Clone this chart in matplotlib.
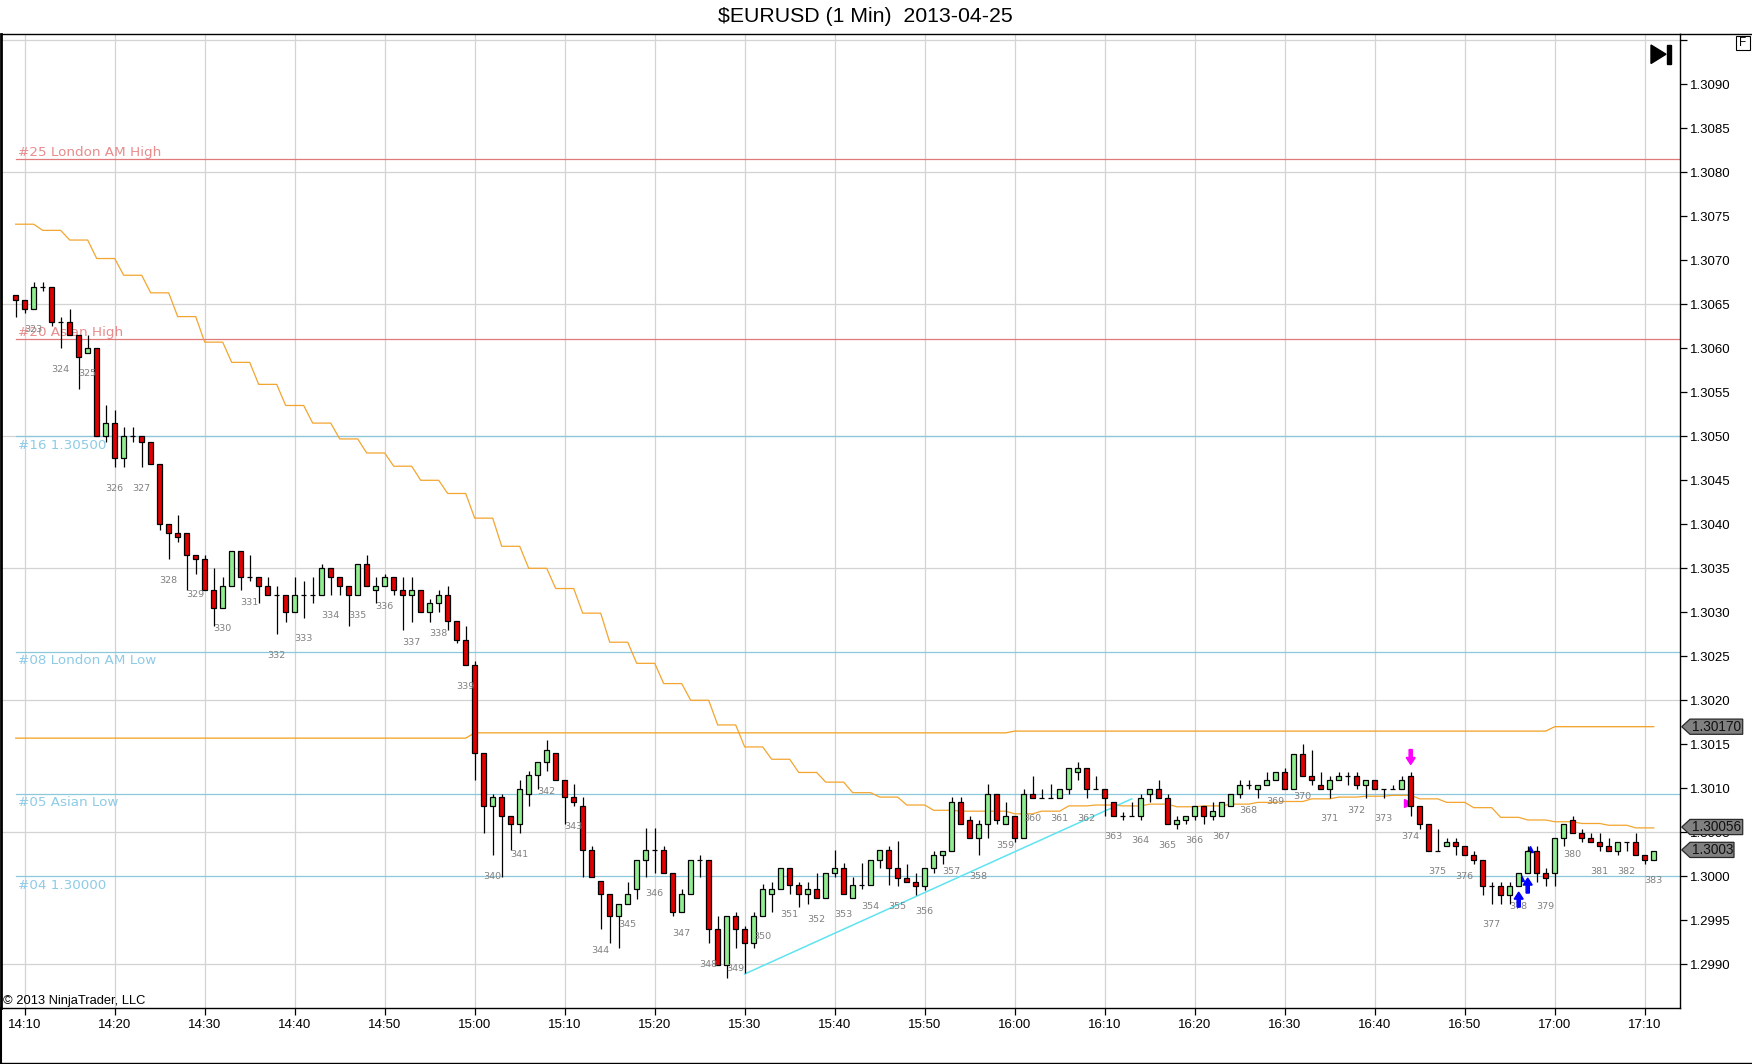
import matplotlib
matplotlib.use("Agg")
import matplotlib.pyplot as plt
import numpy as np
from matplotlib.patches import Polygon, Rectangle
from matplotlib.lines import Line2D

plt.rcParams['font.family'] = ['Liberation Sans', 'DejaVu Sans']

# 1 minute bars, first bar 14:09, last bar 17:11
first_bar = "14:09"
opens = [
    1.30660, 1.30655, 1.30645, 1.30670, 1.30670, 1.30630, 1.30630, 1.30615, 1.30595, 1.30600,
    1.30500, 1.30515, 1.30475, 1.30500, 1.30500, 1.30494, 1.30469, 1.30400, 1.30390, 1.30390,
    1.30365, 1.30360, 1.30325, 1.30305, 1.30330, 1.30370, 1.30340, 1.30340, 1.30330, 1.30320,
    1.30320, 1.30300, 1.30320, 1.30320, 1.30320, 1.30350, 1.30340, 1.30330, 1.30320, 1.30355,
    1.30325, 1.30330, 1.30340, 1.30325, 1.30320, 1.30325, 1.30300, 1.30310, 1.30320, 1.30290,
    1.30269, 1.30240, 1.30140, 1.30080, 1.30090, 1.30069, 1.30059, 1.30094, 1.30115, 1.30130,
    1.30140, 1.30109, 1.30090, 1.30080, 1.30030, 1.29995, 1.29980, 1.29955, 1.29969, 1.29985,
    1.30019, 1.30030, 1.30030, 1.30004, 1.29959, 1.29980, 1.30019, 1.30019, 1.29940, 1.29899,
    1.29955, 1.29940, 1.29924, 1.29955, 1.29980, 1.29985, 1.30009, 1.29990, 1.29980, 1.29985,
    1.29975, 1.30004, 1.30009, 1.29975, 1.29990, 1.29990, 1.30019, 1.30030, 1.30009, 1.29998,
    1.29994, 1.29989, 1.30009, 1.30024, 1.30029, 1.30084, 1.30064, 1.30044, 1.30059, 1.30094,
    1.30059, 1.30069, 1.30044, 1.30094, 1.30089, 1.30089, 1.30089, 1.30099, 1.30119, 1.30123,
    1.30099, 1.30099, 1.30084, 1.30069, 1.30069, 1.30069, 1.30094, 1.30099, 1.30089, 1.30059,
    1.30064, 1.30069, 1.30080, 1.30069, 1.30069, 1.30080, 1.30094, 1.30104, 1.30099, 1.30104,
    1.30109, 1.30119, 1.30099, 1.30139, 1.30114, 1.30104, 1.30099, 1.30109, 1.30114, 1.30114,
    1.30104, 1.30109, 1.30099, 1.30099, 1.30099, 1.30114, 1.30080, 1.30059, 1.30029, 1.30034,
    1.30039, 1.30034, 1.30024, 1.30019, 1.29989, 1.29989, 1.29979, 1.29989, 1.30004, 1.30029,
    1.30004, 1.30004, 1.30044, 1.30064, 1.30049, 1.30044, 1.30039, 1.30034, 1.30029, 1.30039,
    1.30039, 1.30024, 1.30019,
]
highs = [
    1.30660, 1.30655, 1.30675, 1.30675, 1.30670, 1.30635, 1.30645, 1.30615, 1.30615, 1.30600,
    1.30535, 1.30530, 1.30510, 1.30510, 1.30500, 1.30494, 1.30469, 1.30400, 1.30411, 1.30390,
    1.30365, 1.30365, 1.30350, 1.30340, 1.30370, 1.30370, 1.30365, 1.30340, 1.30340, 1.30330,
    1.30320, 1.30340, 1.30335, 1.30340, 1.30355, 1.30350, 1.30340, 1.30330, 1.30355, 1.30365,
    1.30340, 1.30344, 1.30340, 1.30340, 1.30340, 1.30325, 1.30315, 1.30325, 1.30330, 1.30290,
    1.30284, 1.30245, 1.30140, 1.30094, 1.30094, 1.30069, 1.30109, 1.30120, 1.30130, 1.30155,
    1.30140, 1.30109, 1.30105, 1.30090, 1.30034, 1.29995, 1.29980, 1.29969, 1.29994, 1.30019,
    1.30055, 1.30055, 1.30034, 1.30004, 1.29985, 1.30019, 1.30024, 1.30019, 1.29955, 1.29955,
    1.29959, 1.29944, 1.29959, 1.29991, 1.29994, 1.30009, 1.30009, 1.29994, 1.29994, 1.30004,
    1.30004, 1.30030, 1.30015, 1.29999, 1.30015, 1.30019, 1.30030, 1.30034, 1.30040, 1.30014,
    1.30004, 1.30009, 1.30029, 1.30029, 1.30090, 1.30090, 1.30069, 1.30064, 1.30105, 1.30094,
    1.30084, 1.30069, 1.30099, 1.30114, 1.30099, 1.30105, 1.30099, 1.30123, 1.30130, 1.30123,
    1.30114, 1.30099, 1.30084, 1.30073, 1.30084, 1.30094, 1.30099, 1.30109, 1.30094, 1.30069,
    1.30069, 1.30080, 1.30080, 1.30084, 1.30084, 1.30094, 1.30109, 1.30109, 1.30104, 1.30119,
    1.30119, 1.30123, 1.30139, 1.30150, 1.30144, 1.30119, 1.30114, 1.30119, 1.30119, 1.30119,
    1.30109, 1.30109, 1.30099, 1.30104, 1.30114, 1.30119, 1.30080, 1.30059, 1.30054, 1.30044,
    1.30044, 1.30034, 1.30029, 1.30019, 1.29994, 1.29994, 1.29994, 1.30004, 1.30034, 1.30034,
    1.30009, 1.30044, 1.30059, 1.30069, 1.30054, 1.30049, 1.30049, 1.30044, 1.30039, 1.30039,
    1.30049, 1.30024, 1.30029,
]
lows = [
    1.30635, 1.30640, 1.30645, 1.30665, 1.30625, 1.30600, 1.30615, 1.30554, 1.30595, 1.30500,
    1.30494, 1.30465, 1.30465, 1.30494, 1.30465, 1.30469, 1.30394, 1.30360, 1.30380, 1.30325,
    1.30344, 1.30325, 1.30284, 1.30305, 1.30330, 1.30325, 1.30335, 1.30310, 1.30320, 1.30275,
    1.30289, 1.30300, 1.30294, 1.30310, 1.30320, 1.30320, 1.30320, 1.30284, 1.30320, 1.30330,
    1.30310, 1.30330, 1.30320, 1.30280, 1.30289, 1.30300, 1.30289, 1.30300, 1.30280, 1.30265,
    1.30240, 1.30109, 1.30049, 1.30024, 1.29999, 1.30030, 1.30049, 1.30080, 1.30099, 1.30120,
    1.30109, 1.30059, 1.30080, 1.29999, 1.29999, 1.29940, 1.29924, 1.29919, 1.29969, 1.29974,
    1.29999, 1.30004, 1.30004, 1.29955, 1.29959, 1.29980, 1.29999, 1.29924, 1.29899, 1.29884,
    1.29919, 1.29890, 1.29919, 1.29955, 1.29959, 1.29985, 1.29980, 1.29965, 1.29969, 1.29975,
    1.29975, 1.29999, 1.29980, 1.29975, 1.29985, 1.29990, 1.30009, 1.29990, 1.29989, 1.29994,
    1.29979, 1.29984, 1.30004, 1.30014, 1.30029, 1.30059, 1.30044, 1.30024, 1.30044, 1.30059,
    1.30059, 1.30039, 1.30044, 1.30089, 1.30089, 1.30089, 1.30089, 1.30094, 1.30109, 1.30089,
    1.30099, 1.30069, 1.30069, 1.30064, 1.30069, 1.30064, 1.30084, 1.30089, 1.30059, 1.30054,
    1.30059, 1.30064, 1.30059, 1.30064, 1.30069, 1.30080, 1.30089, 1.30099, 1.30089, 1.30104,
    1.30109, 1.30099, 1.30099, 1.30114, 1.30104, 1.30099, 1.30089, 1.30109, 1.30104, 1.30099,
    1.30089, 1.30099, 1.30089, 1.30099, 1.30099, 1.30069, 1.30054, 1.30029, 1.30029, 1.30034,
    1.30024, 1.30024, 1.30014, 1.29979, 1.29969, 1.29969, 1.29969, 1.29989, 1.30004, 1.29994,
    1.29989, 1.29989, 1.30034, 1.30049, 1.30039, 1.30039, 1.30029, 1.30029, 1.30024, 1.30029,
    1.30024, 1.30014, 1.30019,
]
closes = [
    1.30655, 1.30645, 1.30670, 1.30670, 1.30630, 1.30630, 1.30615, 1.30590, 1.30600, 1.30500,
    1.30515, 1.30475, 1.30500, 1.30500, 1.30494, 1.30469, 1.30400, 1.30390, 1.30385, 1.30365,
    1.30360, 1.30325, 1.30305, 1.30330, 1.30370, 1.30340, 1.30340, 1.30330, 1.30320, 1.30320,
    1.30300, 1.30320, 1.30320, 1.30320, 1.30350, 1.30340, 1.30330, 1.30320, 1.30355, 1.30330,
    1.30330, 1.30340, 1.30325, 1.30320, 1.30325, 1.30300, 1.30310, 1.30320, 1.30290, 1.30269,
    1.30240, 1.30140, 1.30080, 1.30090, 1.30069, 1.30059, 1.30099, 1.30115, 1.30130, 1.30144,
    1.30109, 1.30090, 1.30084, 1.30030, 1.29999, 1.29980, 1.29955, 1.29969, 1.29980, 1.30019,
    1.30030, 1.30030, 1.30004, 1.29959, 1.29980, 1.30019, 1.30019, 1.29940, 1.29899, 1.29955,
    1.29940, 1.29924, 1.29955, 1.29985, 1.29985, 1.30009, 1.29990, 1.29980, 1.29985, 1.29975,
    1.30004, 1.30009, 1.29980, 1.29990, 1.29990, 1.30019, 1.30030, 1.30009, 1.29998, 1.29994,
    1.29989, 1.30009, 1.30024, 1.30029, 1.30084, 1.30059, 1.30044, 1.30059, 1.30094, 1.30064,
    1.30069, 1.30044, 1.30094, 1.30089, 1.30089, 1.30089, 1.30099, 1.30123, 1.30123, 1.30099,
    1.30099, 1.30089, 1.30069, 1.30069, 1.30069, 1.30089, 1.30099, 1.30089, 1.30059, 1.30064,
    1.30069, 1.30080, 1.30069, 1.30074, 1.30084, 1.30094, 1.30104, 1.30104, 1.30104, 1.30109,
    1.30119, 1.30099, 1.30139, 1.30114, 1.30109, 1.30099, 1.30109, 1.30114, 1.30114, 1.30104,
    1.30109, 1.30099, 1.30099, 1.30099, 1.30109, 1.30080, 1.30059, 1.30029, 1.30029, 1.30039,
    1.30034, 1.30024, 1.30019, 1.29989, 1.29989, 1.29979, 1.29989, 1.30004, 1.30029, 1.30004,
    1.29998, 1.30044, 1.30059, 1.30049, 1.30044, 1.30039, 1.30034, 1.30029, 1.30039, 1.30039,
    1.30024, 1.30019, 1.30029,
]

# stepped indicator, one value per 3-bar group starting 14:09
step_line = [
    1.30741, 1.30734, 1.30723, 1.30702, 1.30683, 1.30663, 1.30636, 1.30607, 1.30584, 1.30559,
    1.30535, 1.30515, 1.30497, 1.30481, 1.30466, 1.30450, 1.30435, 1.30407, 1.30375, 1.30350,
    1.30327, 1.30299, 1.30266, 1.30242, 1.30219, 1.30200, 1.30172, 1.30147, 1.30133, 1.30118,
    1.30107, 1.30095, 1.30090, 1.30081, 1.30075, 1.30074, 1.30074, 1.30071, 1.30074, 1.30080,
    1.30081, 1.30080, 1.30082, 1.30079, 1.30080, 1.30082, 1.30084, 1.30085, 1.30088, 1.30090,
    1.30091, 1.30092, 1.30088, 1.30084, 1.30078, 1.30067, 1.30064, 1.30062, 1.30060, 1.30058,
    1.30055,
]
# hourly level line
hour_keys = [14, 15, 16, 17]
hour_vals = [1.30157, 1.30163, 1.30165, 1.30170]

level_names = ["#25 London AM High", "#20 Asian High", "#16 1.30500",
               "#08 London AM Low", "#05 Asian Low", "#04 1.30000"]
level_prices = [1.30815, 1.30610, 1.30500, 1.30255, 1.30094, 1.30000]
level_kinds = ["high", "high", "low", "low", "low", "low"]

trend_times = ["15:30", "16:13"]
trend_prices = [1.29889, 1.30088]

tag_labels = ["1.30170", "1.30056", "1.3003"]
tag_prices = [1.30170, 1.30056, 1.30030]

arrow_times = ["16:44", "16:56", "16:57"]
arrow_prices = [1.30127, 1.29982, 1.29998]
arrow_dirs = ["down", "up", "up"]

first_label = 323


def tmin(s):
    hh, mm = s.split(":")
    return int(hh) * 60 + int(mm) - (14 * 60 + 10)


W, H = 1752, 1064
fig = plt.figure(figsize=(W / 100, H / 100), dpi=100)
ax_l, ax_r, ax_t, ax_b = 1, 1680, 34.3, 1008.3
ax = fig.add_axes([ax_l / W, 1 - ax_b / H, (ax_r - ax_l) / W, (ax_b - ax_t) / H])

xmin, xmax = (ax_l - 24.7) / 9.0, (ax_r - 24.7) / 9.0
ymin, ymax = 1.29850, 1.309568
ax.set_xlim(xmin, xmax)
ax.set_ylim(ymin, ymax)
ppx = (ymax - ymin) / (ax_b - ax_t)   # price per pixel
mpx = (xmax - xmin) / (ax_r - ax_l)   # minutes per pixel

o = np.array(opens)
h = np.array(highs)
l = np.array(lows)
c = np.array(closes)
x = np.arange(len(o)) + tmin(first_bar)

# grid
for gx in range(0, 181, 10):
    ax.axvline(gx, color="#d3d3d3", lw=0.9, zorder=0)
for gy in np.arange(1.2990, 1.3096, 0.0015):
    ax.axhline(gy, color="#d3d3d3", lw=0.9, zorder=0)

# level lines: highs labelled above the line, lows below it
for name, p, kind in zip(level_names, level_prices, level_kinds):
    if kind == "high":
        lc, tc, ty, va = "#e07a7a", "#e88c8c", p + 3.5 * ppx, "baseline"
    else:
        lc, tc, ty, va = "#8cc8dc", "#8ecbe6", p - 2.5 * ppx, "top"
    ax.plot([x[0], xmax], [p, p], color=lc, lw=0.9, zorder=1)
    ax.text(x[0] + 0.3, ty, name, color=tc, fontsize=9.7,
            family="DejaVu Sans", va=va, ha="left", zorder=1)

# indicator lines
step_vals = [step_line[i // 3] for i in range(len(x))]
ax.plot(x, step_vals, color="#f3a530", lw=0.9, zorder=2)
hour_of_bar = [(14 * 60 + 10 + xi) // 60 for xi in x]
hour_vals_bar = [hour_vals[hour_keys.index(hh)] for hh in hour_of_bar]
ax.plot(x, hour_vals_bar, color="#f3a020", lw=0.9, zorder=2)

# trend line
ax.plot([tmin(t) for t in trend_times], trend_prices, color="#5fe3f0", lw=1.1, zorder=2)

# hidden signal triangles behind the bars
ax.plot([153.7], [1.30083], marker=">", color="#ff00ff", ms=6, zorder=2.5, ls="none")
ax.plot([166.3, 167.3], [1.29998, 1.30031], marker="^", color="#0000ff", ms=5, zorder=2.5, ls="none")

# candles
bw = 0.62
up = c > o
dn = c < o
fl = c == o
ax.vlines(x, l, h, color="black", lw=0.9, zorder=3)
ax.bar(x[up], (c - o)[up], bottom=o[up], width=bw, color="#90ee90",
       edgecolor="black", lw=0.9, zorder=4)
ax.bar(x[dn], (o - c)[dn], bottom=c[dn], width=bw, color="#e00000",
       edgecolor="black", lw=0.9, zorder=4)
ax.hlines(o[fl], x[fl] - bw / 2, x[fl] + bw / 2, color="black", lw=0.9, zorder=4)

# bar numbers every third bar
for i in range(2, len(x), 3):
    ax.text(x[i], l[i] - 21 * ppx, str(first_label + (i - 2) // 3), color="#808080",
            fontsize=6.8, family="DejaVu Sans", ha="center", va="center", zorder=5)

# signal arrows
for t, p, d in zip(arrow_times, arrow_prices, arrow_dirs):
    ax0 = tmin(t)
    s = -1 if d == "down" else 1
    hw, sw, hh, sh = 4.5 * mpx, 1.6 * mpx, 7 * ppx, 8 * ppx
    pts = [(ax0, p), (ax0 - hw, p - s * hh), (ax0 - sw, p - s * hh),
           (ax0 - sw, p - s * (hh + sh)), (ax0 + sw, p - s * (hh + sh)),
           (ax0 + sw, p - s * hh), (ax0 + hw, p - s * hh)]
    col = "#ff00ff" if d == "down" else "#0000ff"
    ax.add_patch(Polygon(pts, closed=True, color=col, zorder=6))

# axes styling
for sp in ax.spines.values():
    sp.set_color("black")
    sp.set_linewidth(1.0)
ax.spines["left"].set_linewidth(2.0)
ax.yaxis.tick_right()
yt = np.arange(1.2990, 1.30951, 0.0005)
ax.set_yticks(yt)
ax.set_yticklabels(["%.4f" % v for v in yt[:-1]] + [""])
xt = list(range(0, 181, 10))
ax.set_xticks(xt)
ax.set_xticklabels(["%d:%02d" % ((850 + v) // 60, (850 + v) % 60) for v in xt])
ax.tick_params(axis="y", direction="out", length=5, width=0.9, pad=2.5, labelsize=9.5, colors="black")
ax.tick_params(axis="x", direction="out", length=5, width=0.9, pad=2.5, labelsize=9.5, colors="black")

# price tags on the axis
tr = ax.get_yaxis_transform()
axw = ax_r - ax_l
for lab, p in zip(tag_labels, tag_prices):
    right = 1742.7 if len(lab) > 6 else 1734
    hh = 7.6 * ppx
    pts = [((1681.7 - ax_l) / axw, p), ((1690 - ax_l) / axw, p + hh), ((right - ax_l) / axw, p + hh),
           ((right - ax_l) / axw, p - hh), ((1690 - ax_l) / axw, p - hh)]
    ax.add_patch(Polygon(pts, closed=True, facecolor="#808080", edgecolor="#2a2a2a",
                         lw=0.9, transform=tr, clip_on=False, zorder=10))
    ax.text((1692 - ax_l) / axw, p, lab, transform=tr, fontsize=9.8, color="#111111",
            ha="left", va="center", clip_on=False, zorder=11)


def fx(px):
    return px / W


def fy(py):
    return 1 - py / H


# frame pieces
fig.add_artist(Line2D([fx(ax_r), 1], [fy(ax_t), fy(ax_t)], color="black", lw=1.0))
fig.add_artist(Line2D([0, 1], [fy(1062.7), fy(1062.7)], color="black", lw=1.0))
fig.add_artist(Line2D([fx(1), fx(1)], [fy(ax_b), fy(1062.7)], color="black", lw=1.5))

# title and notes
fig.text(fx(865), fy(16), "\\$EURUSD (1 Min)  2013-04-25", ha="center", va="center", fontsize=15.3)
fig.text(fx(3), fy(1000.7), "\u00a9 2013 NinjaTrader, LLC", ha="left", va="center", fontsize=9.3)

# jump-to-end icon and F box
fig.add_artist(Polygon([(fx(1651), fy(45)), (fx(1651), fy(63.5)), (fx(1666), fy(54.2))],
                       closed=True, color="black", transform=fig.transFigure))
fig.add_artist(Rectangle((fx(1667.3), fy(63.5)), fx(3.4), 18.5 / H, color="black",
                         transform=fig.transFigure))
fig.add_artist(Rectangle((fx(1736), fy(50)), fx(14), 14 / H, facecolor="white",
                         edgecolor="black", lw=0.8, transform=fig.transFigure))
fig.text(fx(1743), fy(43), "F", ha="center", va="center", fontsize=8.5)

fig.savefig("out.png", dpi=100)
